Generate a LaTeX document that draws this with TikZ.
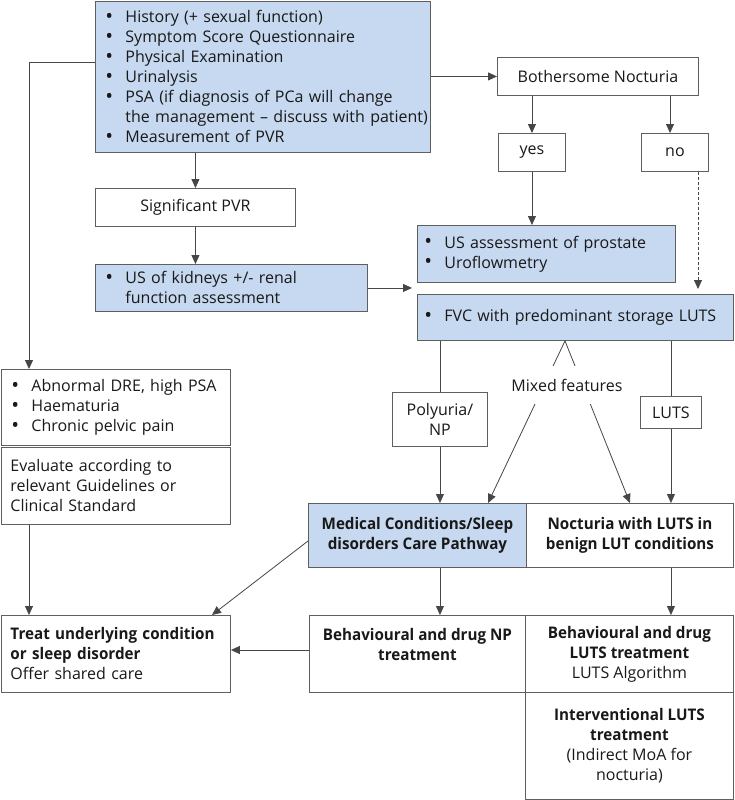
\documentclass[tikz,border=0pt]{standalone}
\usepackage{fontspec}
\usepackage{graphicx}
\setmainfont{Open Sans}[BoldFeatures={FakeStretch=0.95}]
\usetikzlibrary{arrows.meta}
\definecolor{boxblue}{RGB}{198,217,240}
\definecolor{edgec}{RGB}{95,95,95}
\definecolor{wirec}{RGB}{70,70,70}
\definecolor{ink}{RGB}{25,25,25}
\newcommand\bu{\makebox[20pt][l]{\raisebox{-0.6pt}{\scalebox{1.3}{\textbullet}}}}
\newcommand\bt[1]{\textbf{#1}}
\begin{document}
\begin{tikzpicture}[x=1pt,y=-1pt]
\tikzset{
  base/.style={font=\fontsize{16pt}{20pt}\selectfont, text=ink, inner sep=0pt, anchor=north west},
  box/.style={base, draw=edgec, line width=0.9pt, fill=white},
  bluebox/.style={box, fill=boxblue},
  wire/.style={draw=wirec, line width=0.8pt},
  arr/.style={wire, -{Triangle[length=9pt,width=8pt]}}
}
\fill[white] (0,0) rectangle (734,800);
\useasboundingbox (0,0) rectangle (734,800);

% boxes
\node[bluebox, minimum width=335pt, minimum height=151pt, text width=315pt, inner xsep=10pt, align=left] (A) at (95,1) {%
\mbox{\bu History (+ sexual function)}\\
\mbox{\bu Symptom Score Questionnaire}\\
\mbox{\bu Physical Examination}\\
\mbox{\bu Urinalysis}\\
\mbox{\bu PSA (if diagnosis of PCa will change}\\
\mbox{\hspace*{20pt}the management – discuss with patient)}\\
\mbox{\bu Measurement of PVR}};
\node[box, minimum width=201pt, minimum height=38pt] (BN) at (497,57) {Bothersome Nocturia};
\node[box, minimum width=67pt, minimum height=38pt] (yes) at (498,133) {yes};
\node[box, minimum width=67pt, minimum height=38pt] (no) at (641,133) {no};
\node[box, minimum width=200pt, minimum height=38pt] (SPVR) at (95,188) {Significant PVR};
\node[bluebox, minimum width=272pt, minimum height=47pt, text width=252pt, inner xsep=10pt, align=left] (USK) at (95,264) {%
\mbox{\bu US of kidneys +/- renal}\\
\mbox{\hspace*{20pt}function assessment}};
\node[bluebox, minimum width=258pt, minimum height=57pt, text width=244pt, inner xsep=7pt, align=left] (USA) at (417,225) {%
\mbox{\bu US assessment of prostate}\\
\mbox{\bu Uroflowmetry}};
\node[bluebox, minimum width=316pt, minimum height=46pt, text width=302pt, inner xsep=7pt, align=left] (FVC) at (417,294) {%
\mbox{\bu FVC with predominant storage LUTS}};
\node[box, minimum width=95pt, minimum height=54pt, align=center] (POLY) at (392,392) {Polyuria/\\NP};
\node[box, minimum width=61pt, minimum height=32pt] (LUTS) at (640,396) {LUTS};
\node[bluebox, minimum width=218pt, minimum height=64pt, align=center] (MED) at (308,503) {%
\bt{Medical Conditions/Sleep}\\\bt{disorders Care Pathway}};
\node[box, minimum width=207pt, minimum height=64pt, align=center] (NOC) at (526,503) {%
\bt{Nocturia with LUTS in}\\\bt{benign LUT conditions}};
\node[box, minimum width=229.5pt, minimum height=76pt, text width=208.5pt, inner xsep=10.5pt, align=left] (ABN) at (0.5,369) {%
\mbox{\bu Abnormal DRE, high PSA}\\
\mbox{\bu Haematuria}\\
\mbox{\bu Chronic pelvic pain}};
\node[box, minimum width=229.5pt, minimum height=77pt, text width=210.5pt, inner xsep=9.5pt, align=left] (EVAL) at (0.5,447) {%
Evaluate according to\\relevant Guidelines or\\Clinical Standard};
\node[box, minimum width=229.5pt, minimum height=77pt, text width=210.5pt, inner xsep=9.5pt, align=left] (TREAT) at (0.5,615) {%
\mbox{\bt{Treat underlying condition}}\\\bt{or sleep disorder}\\Offer shared care};
\node[box, minimum width=216pt, minimum height=77pt, align=center] (BNP) at (309,615) {%
\bt{Behavioural and drug NP}\\\bt{treatment}\\\mbox{}};
\node[box, minimum width=208pt, minimum height=77pt, align=center] (BLUTS) at (525,615) {%
\bt{Behavioural and drug}\\\bt{LUTS treatment}\\LUTS Algorithm};
\node[box, minimum width=208pt, minimum height=107pt, align=center] (INT) at (525,692) {%
\bt{Interventional LUTS}\\\bt{treatment}\\(Indirect MoA for\\nocturia)};

% helper coordinates
\coordinate (lx) at (29,0);
\coordinate (ay) at (0,62);
\coordinate (gap) at (412,288);
\coordinate (nox) at (670,0);
\coordinate (dx) at (698,0);
\coordinate (mx) at (565,0);
\coordinate (m1) at (488,0);
\coordinate (my) at (0,541);
\coordinate (tx) at (212,0);
\coordinate (by) at (0,650);

% connectors
\draw[arr] (A.west |- ay) -| (lx |- ABN.north);
\draw[arr] (A.south -| SPVR.north) -- (SPVR.north);
\draw[arr] (SPVR.south) -- (SPVR.south |- USK.north);
\draw[arr] (USK.east) -- (gap |- USK.east);
\draw[arr] (A.east |- BN.west) -- (BN.west);
\draw[arr] (BN.south -| yes.north) -- (yes.north);
\draw[arr] (BN.south -| nox) -- (nox |- no.north);
\draw[arr] (yes.south) -- (yes.south |- USA.north);
\draw[arr, dash pattern=on 3pt off 2pt, shorten >=5pt] (no.south -| dx) -- (dx |- FVC.north);
\draw[wire] (FVC.south -| POLY.north) -- (POLY.north);
\draw[arr] (POLY.south) -- (POLY.south |- MED.north);
\draw[arr] (FVC.south -| mx) -- (MED.north -| m1);
\draw[arr] (FVC.south -| mx) -- (NOC.north);
\draw[wire] (FVC.south -| LUTS.north) -- (LUTS.north);
\draw[arr] (LUTS.south) -- (LUTS.south |- NOC.north);
\draw[arr] (EVAL.south -| lx) -- (lx |- TREAT.north);
\draw[arr] (MED.west |- my) -- (TREAT.north -| tx);
\draw[arr] (MED.south -| POLY.south) -- (POLY.south |- BNP.north);
\draw[arr] (NOC.south -| LUTS.south) -- (LUTS.south |- BLUTS.north);
\draw[arr] (BNP.west |- by) -- (TREAT.east |- by);

\node[base, anchor=center, fill=white, inner xsep=8pt, minimum height=38pt] (MIX) at (567,385) {Mixed features};
\end{tikzpicture}
\end{document}
